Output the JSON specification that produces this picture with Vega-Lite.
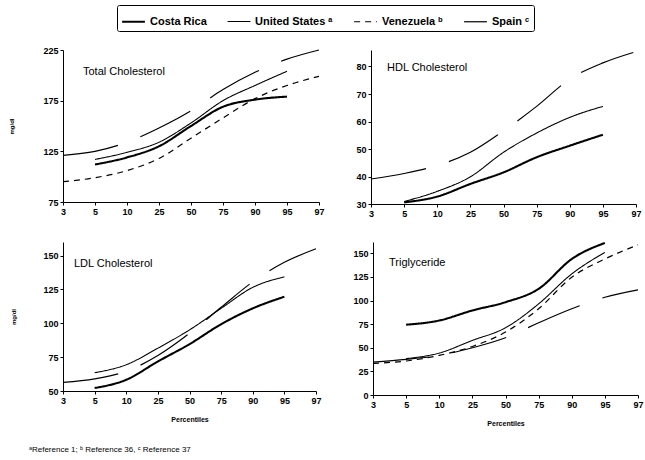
{
  "$schema": "https://vega.github.io/schema/vega-lite/v6.json",
  "background": "white",
  "padding": {"left": 8, "top": 4, "right": 5, "bottom": 5},
  "datasets": {
    "lipids": [
      {"panel": "TC", "country": "Costa Rica", "pct": 5, "value": 112},
      {"panel": "TC", "country": "Costa Rica", "pct": 10, "value": 119},
      {"panel": "TC", "country": "Costa Rica", "pct": 25, "value": 130},
      {"panel": "TC", "country": "Costa Rica", "pct": 50, "value": 150},
      {"panel": "TC", "country": "Costa Rica", "pct": 75, "value": 169},
      {"panel": "TC", "country": "Costa Rica", "pct": 90, "value": 176},
      {"panel": "TC", "country": "Costa Rica", "pct": 95, "value": 179},
      {"panel": "TC", "country": "United States", "pct": 5, "value": 117},
      {"panel": "TC", "country": "United States", "pct": 10, "value": 124},
      {"panel": "TC", "country": "United States", "pct": 25, "value": 134},
      {"panel": "TC", "country": "United States", "pct": 50, "value": 153},
      {"panel": "TC", "country": "United States", "pct": 75, "value": 175},
      {"panel": "TC", "country": "United States", "pct": 90, "value": 190},
      {"panel": "TC", "country": "United States", "pct": 95, "value": 204},
      {"panel": "TC", "country": "Venezuela", "pct": 3, "value": 95},
      {"panel": "TC", "country": "Venezuela", "pct": 5, "value": 99},
      {"panel": "TC", "country": "Venezuela", "pct": 10, "value": 106},
      {"panel": "TC", "country": "Venezuela", "pct": 25, "value": 118},
      {"panel": "TC", "country": "Venezuela", "pct": 50, "value": 138},
      {"panel": "TC", "country": "Venezuela", "pct": 75, "value": 158},
      {"panel": "TC", "country": "Venezuela", "pct": 90, "value": 177},
      {"panel": "TC", "country": "Venezuela", "pct": 95, "value": 190},
      {"panel": "TC", "country": "Venezuela", "pct": 97, "value": 199},
      {"panel": "TC", "country": "Spain", "pct": 3, "value": 121},
      {"panel": "TC", "country": "Spain", "pct": 5, "value": 125},
      {"panel": "TC", "country": "Spain", "pct": 10, "value": 134},
      {"panel": "TC", "country": "Spain", "pct": 25, "value": 148},
      {"panel": "TC", "country": "Spain", "pct": 50, "value": 165},
      {"panel": "TC", "country": "Spain", "pct": 75, "value": 186},
      {"panel": "TC", "country": "Spain", "pct": 90, "value": 203},
      {"panel": "TC", "country": "Spain", "pct": 95, "value": 216},
      {"panel": "TC", "country": "Spain", "pct": 97, "value": 225},
      {"panel": "HDL", "country": "Costa Rica", "pct": 5, "value": 30.6},
      {"panel": "HDL", "country": "Costa Rica", "pct": 10, "value": 32.7},
      {"panel": "HDL", "country": "Costa Rica", "pct": 25, "value": 37.3},
      {"panel": "HDL", "country": "Costa Rica", "pct": 50, "value": 41.5},
      {"panel": "HDL", "country": "Costa Rica", "pct": 75, "value": 47},
      {"panel": "HDL", "country": "Costa Rica", "pct": 90, "value": 51.2},
      {"panel": "HDL", "country": "Costa Rica", "pct": 95, "value": 55.2},
      {"panel": "HDL", "country": "United States", "pct": 5, "value": 30.9},
      {"panel": "HDL", "country": "United States", "pct": 10, "value": 34.6},
      {"panel": "HDL", "country": "United States", "pct": 25, "value": 39.9},
      {"panel": "HDL", "country": "United States", "pct": 50, "value": 48.8},
      {"panel": "HDL", "country": "United States", "pct": 75, "value": 55.8},
      {"panel": "HDL", "country": "United States", "pct": 90, "value": 61.5},
      {"panel": "HDL", "country": "United States", "pct": 95, "value": 65.5},
      {"panel": "HDL", "country": "Spain", "pct": 3, "value": 39.1},
      {"panel": "HDL", "country": "Spain", "pct": 5, "value": 41.1},
      {"panel": "HDL", "country": "Spain", "pct": 10, "value": 44},
      {"panel": "HDL", "country": "Spain", "pct": 25, "value": 48.8},
      {"panel": "HDL", "country": "Spain", "pct": 50, "value": 56.6},
      {"panel": "HDL", "country": "Spain", "pct": 75, "value": 65.5},
      {"panel": "HDL", "country": "Spain", "pct": 90, "value": 75.4},
      {"panel": "HDL", "country": "Spain", "pct": 95, "value": 81.3},
      {"panel": "HDL", "country": "Spain", "pct": 97, "value": 85.4},
      {"panel": "LDL", "country": "Costa Rica", "pct": 5, "value": 52.2},
      {"panel": "LDL", "country": "Costa Rica", "pct": 10, "value": 58.3},
      {"panel": "LDL", "country": "Costa Rica", "pct": 25, "value": 71.8},
      {"panel": "LDL", "country": "Costa Rica", "pct": 50, "value": 84.6},
      {"panel": "LDL", "country": "Costa Rica", "pct": 75, "value": 99.3},
      {"panel": "LDL", "country": "Costa Rica", "pct": 90, "value": 111},
      {"panel": "LDL", "country": "Costa Rica", "pct": 95, "value": 119.6},
      {"panel": "LDL", "country": "United States", "pct": 5, "value": 63.5},
      {"panel": "LDL", "country": "United States", "pct": 10, "value": 69.4},
      {"panel": "LDL", "country": "United States", "pct": 25, "value": 81.6},
      {"panel": "LDL", "country": "United States", "pct": 50, "value": 95.1},
      {"panel": "LDL", "country": "United States", "pct": 75, "value": 111},
      {"panel": "LDL", "country": "United States", "pct": 90, "value": 126.5},
      {"panel": "LDL", "country": "United States", "pct": 95, "value": 134.3},
      {"panel": "LDL", "country": "Spain", "pct": 3, "value": 56.4},
      {"panel": "LDL", "country": "Spain", "pct": 5, "value": 59},
      {"panel": "LDL", "country": "Spain", "pct": 10, "value": 64.5},
      {"panel": "LDL", "country": "Spain", "pct": 25, "value": 76.2},
      {"panel": "LDL", "country": "Spain", "pct": 50, "value": 92.6},
      {"panel": "LDL", "country": "Spain", "pct": 75, "value": 111.8},
      {"panel": "LDL", "country": "Spain", "pct": 90, "value": 130.6},
      {"panel": "LDL", "country": "Spain", "pct": 95, "value": 145},
      {"panel": "LDL", "country": "Spain", "pct": 97, "value": 155},
      {"panel": "TG", "country": "Costa Rica", "pct": 5, "value": 74.4},
      {"panel": "TG", "country": "Costa Rica", "pct": 10, "value": 78.9},
      {"panel": "TG", "country": "Costa Rica", "pct": 25, "value": 89.5},
      {"panel": "TG", "country": "Costa Rica", "pct": 50, "value": 98.3},
      {"panel": "TG", "country": "Costa Rica", "pct": 75, "value": 112.4},
      {"panel": "TG", "country": "Costa Rica", "pct": 90, "value": 144},
      {"panel": "TG", "country": "Costa Rica", "pct": 95, "value": 161},
      {"panel": "TG", "country": "United States", "pct": 5, "value": 38.5},
      {"panel": "TG", "country": "United States", "pct": 10, "value": 44.4},
      {"panel": "TG", "country": "United States", "pct": 25, "value": 57.8},
      {"panel": "TG", "country": "United States", "pct": 50, "value": 71.2},
      {"panel": "TG", "country": "United States", "pct": 75, "value": 96.5},
      {"panel": "TG", "country": "United States", "pct": 90, "value": 128.2},
      {"panel": "TG", "country": "United States", "pct": 95, "value": 151},
      {"panel": "TG", "country": "Venezuela", "pct": 3, "value": 33.5},
      {"panel": "TG", "country": "Venezuela", "pct": 5, "value": 36},
      {"panel": "TG", "country": "Venezuela", "pct": 10, "value": 42},
      {"panel": "TG", "country": "Venezuela", "pct": 25, "value": 51.4},
      {"panel": "TG", "country": "Venezuela", "pct": 50, "value": 66.6},
      {"panel": "TG", "country": "Venezuela", "pct": 75, "value": 91.3},
      {"panel": "TG", "country": "Venezuela", "pct": 90, "value": 124.7},
      {"panel": "TG", "country": "Venezuela", "pct": 95, "value": 144},
      {"panel": "TG", "country": "Venezuela", "pct": 97, "value": 159},
      {"panel": "TG", "country": "Spain", "pct": 3, "value": 34.9},
      {"panel": "TG", "country": "Spain", "pct": 5, "value": 37.7},
      {"panel": "TG", "country": "Spain", "pct": 10, "value": 41.9},
      {"panel": "TG", "country": "Spain", "pct": 25, "value": 50},
      {"panel": "TG", "country": "Spain", "pct": 50, "value": 60.6},
      {"panel": "TG", "country": "Spain", "pct": 75, "value": 76.5},
      {"panel": "TG", "country": "Spain", "pct": 90, "value": 91.3},
      {"panel": "TG", "country": "Spain", "pct": 95, "value": 103.5},
      {"panel": "TG", "country": "Spain", "pct": 97, "value": 111.3}
    ]
  },
  "config": {
    "view": {"stroke": null},
    "font": "Liberation Sans",
    "axis": {
      "grid": false,
      "domainColor": "black",
      "tickColor": "black",
      "tickSize": 3,
      "labelColor": "black",
      "labelFont": "Liberation Sans",
      "labelFontWeight": "bold",
      "labelFontSize": 9,
      "labelPadding": 2,
      "titleFont": "Liberation Sans",
      "titleFontWeight": "bold",
      "titleFontSize": 6,
      "titleColor": "black"
    },
    "legend": {
      "orient": "top",
      "direction": "horizontal",
      "title": null,
      "strokeColor": "black",
      "padding": 4,
      "cornerRadius": 2,
      "symbolType": "stroke",
      "symbolSize": 520,
      "symbolStrokeColor": "black",
      "labelFont": "Liberation Sans",
      "labelFontWeight": "bold",
      "labelFontSize": 11,
      "labelColor": "black",
      "columnPadding": 18,
      "offset": 15,
      "layout": {"top": {"anchor": "middle"}}
    },
    "title": {"color": "black", "font": "Liberation Sans"}
  },
  "resolve": {"scale": {"strokeDash": "shared", "strokeWidth": "shared"}, "legend": {"strokeDash": "shared", "strokeWidth": "shared"}},
  "title": {
    "text": "ᵃReference 1;   ᵇ Reference 36,  ᶜ Reference 37",
    "orient": "bottom",
    "anchor": "start",
    "fontSize": 8,
    "fontWeight": "normal",
    "offset": 20,
    "dx": 20
  },
  "spacing": 20,
  "vconcat": [
    {
      "spacing": 30,
      "hconcat": [
        {
          "width": 256, "height": 152,
          "title": {"text": "Total Cholesterol", "orient": "top", "anchor": "start", "frame": "group", "offset": -31, "dx": 20, "fontSize": 11, "fontWeight": "normal"},
          "data": {"name": "lipids"},
          "transform": [{"filter": "datum.panel === 'TC'"}],
          "mark": {"type": "line", "color": "black", "interpolate": "monotone"},
          "encoding": {
            "x": {"field": "pct", "type": "ordinal", "scale": {"type": "point", "padding": 0, "domain": [3, 5, 10, 25, 50, 75, 90, 95, 97]}, "axis": {"title": null, "labelAngle": 0}},
            "y": {"field": "value", "type": "quantitative", "scale": {"domain": [75, 225], "nice": false}, "axis": {"title": "mg/dl", "values": [75, 125, 175, 225], "titlePadding": 28}},
            "strokeDash": {"field": "country", "type": "nominal", "scale": {"domain": ["Costa Rica", "United States", "Venezuela", "Spain"], "range": [[1, 0], [1, 0], [6, 5], [56, 24]]}, "legend": {"labelExpr": "datum.label == 'United States' ? 'United States ᵃ' : datum.label == 'Venezuela' ? 'Venezuela ᵇ' : datum.label == 'Spain' ? 'Spain ᶜ' : datum.label"}},
            "strokeWidth": {"field": "country", "type": "nominal", "scale": {"type": "ordinal", "domain": ["Costa Rica", "United States", "Venezuela", "Spain"], "range": [2.1, 1.1, 1.2, 1.2]}, "legend": {"labelExpr": "datum.label == 'United States' ? 'United States ᵃ' : datum.label == 'Venezuela' ? 'Venezuela ᵇ' : datum.label == 'Spain' ? 'Spain ᶜ' : datum.label"}}
          }
        },
        {
          "width": 265, "height": 154,
          "title": {"text": "HDL Cholesterol", "orient": "top", "anchor": "start", "frame": "group", "offset": -24, "dx": 16, "fontSize": 11, "fontWeight": "normal"},
          "data": {"name": "lipids"},
          "transform": [{"filter": "datum.panel === 'HDL'"}],
          "mark": {"type": "line", "color": "black", "interpolate": "monotone"},
          "encoding": {
            "x": {"field": "pct", "type": "ordinal", "scale": {"type": "point", "padding": 0, "domain": [3, 5, 10, 25, 50, 75, 90, 95, 97]}, "axis": {"title": null, "labelAngle": 0}},
            "y": {"field": "value", "type": "quantitative", "scale": {"domain": [30, 86], "nice": false}, "axis": {"title": null, "values": [30, 40, 50, 60, 70, 80]}},
            "strokeDash": {"field": "country", "type": "nominal", "scale": {"domain": ["Costa Rica", "United States", "Venezuela", "Spain"], "range": [[1, 0], [1, 0], [6, 5], [56, 24]]}, "legend": {"labelExpr": "datum.label == 'United States' ? 'United States ᵃ' : datum.label == 'Venezuela' ? 'Venezuela ᵇ' : datum.label == 'Spain' ? 'Spain ᶜ' : datum.label"}},
            "strokeWidth": {"field": "country", "type": "nominal", "scale": {"type": "ordinal", "domain": ["Costa Rica", "United States", "Venezuela", "Spain"], "range": [2.1, 1.1, 1.2, 1.2]}, "legend": {"labelExpr": "datum.label == 'United States' ? 'United States ᵃ' : datum.label == 'Venezuela' ? 'Venezuela ᵇ' : datum.label == 'Spain' ? 'Spain ᶜ' : datum.label"}}
          }
        }
      ]
    },
    {
      "spacing": 30,
      "hconcat": [
        {
          "width": 253, "height": 149,
          "title": {"text": "LDL Cholesterol", "orient": "top", "anchor": "start", "frame": "group", "offset": -27, "dx": 11, "fontSize": 11, "fontWeight": "normal"},
          "data": {"name": "lipids"},
          "transform": [{"filter": "datum.panel === 'LDL'"}],
          "mark": {"type": "line", "color": "black", "interpolate": "monotone"},
          "encoding": {
            "x": {"field": "pct", "type": "ordinal", "scale": {"type": "point", "padding": 0, "domain": [3, 5, 10, 25, 50, 75, 90, 95, 97]}, "axis": {"title": "Percentiles", "labelAngle": 0, "titlePadding": 10, "titleFontSize": 7}},
            "y": {"field": "value", "type": "quantitative", "scale": {"domain": [50, 160], "nice": false}, "axis": {"title": "mg/dl", "values": [50, 75, 100, 125, 150], "titlePadding": 26}},
            "strokeDash": {"field": "country", "type": "nominal", "scale": {"domain": ["Costa Rica", "United States", "Venezuela", "Spain"], "range": [[1, 0], [1, 0], [6, 5], [56, 24]]}, "legend": {"labelExpr": "datum.label == 'United States' ? 'United States ᵃ' : datum.label == 'Venezuela' ? 'Venezuela ᵇ' : datum.label == 'Spain' ? 'Spain ᶜ' : datum.label"}},
            "strokeWidth": {"field": "country", "type": "nominal", "scale": {"type": "ordinal", "domain": ["Costa Rica", "United States", "Venezuela", "Spain"], "range": [2.1, 1.1, 1.2, 1.2]}, "legend": {"labelExpr": "datum.label == 'United States' ? 'United States ᵃ' : datum.label == 'Venezuela' ? 'Venezuela ᵇ' : datum.label == 'Spain' ? 'Spain ᶜ' : datum.label"}}
          }
        },
        {
          "width": 265, "height": 153,
          "title": {"text": "Triglyceride", "orient": "top", "anchor": "start", "frame": "group", "offset": -29, "dx": 16, "fontSize": 11, "fontWeight": "normal"},
          "data": {"name": "lipids"},
          "transform": [{"filter": "datum.panel === 'TG'"}],
          "mark": {"type": "line", "color": "black", "interpolate": "monotone"},
          "encoding": {
            "x": {"field": "pct", "type": "ordinal", "scale": {"type": "point", "padding": 0, "domain": [3, 5, 10, 25, 50, 75, 90, 95, 97]}, "axis": {"title": "Percentiles", "labelAngle": 0, "titlePadding": 10, "titleFontSize": 7}},
            "y": {"field": "value", "type": "quantitative", "scale": {"domain": [0, 162], "nice": false}, "axis": {"title": null, "values": [0, 25, 50, 75, 100, 125, 150]}},
            "strokeDash": {"field": "country", "type": "nominal", "scale": {"domain": ["Costa Rica", "United States", "Venezuela", "Spain"], "range": [[1, 0], [1, 0], [6, 5], [56, 24]]}, "legend": {"labelExpr": "datum.label == 'United States' ? 'United States ᵃ' : datum.label == 'Venezuela' ? 'Venezuela ᵇ' : datum.label == 'Spain' ? 'Spain ᶜ' : datum.label"}},
            "strokeWidth": {"field": "country", "type": "nominal", "scale": {"type": "ordinal", "domain": ["Costa Rica", "United States", "Venezuela", "Spain"], "range": [2.1, 1.1, 1.2, 1.2]}, "legend": {"labelExpr": "datum.label == 'United States' ? 'United States ᵃ' : datum.label == 'Venezuela' ? 'Venezuela ᵇ' : datum.label == 'Spain' ? 'Spain ᶜ' : datum.label"}}
          }
        }
      ]
    }
  ]
}
